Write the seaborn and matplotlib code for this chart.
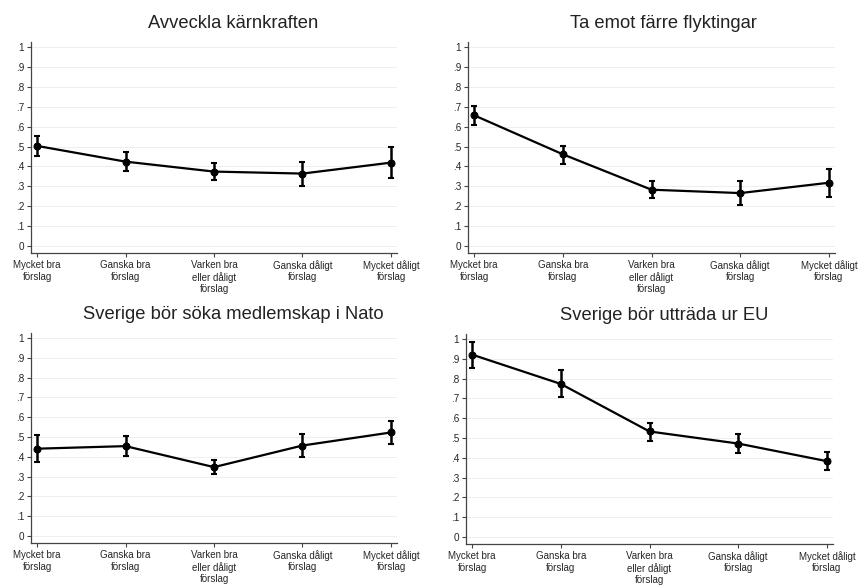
import numpy as np
import pandas as pd
import matplotlib
matplotlib.use('Agg')
import matplotlib.pyplot as plt
import seaborn as sns

# Data (mean and 95% CI bounds)
categories = ['Mycket bra\nförslag', 'Ganska bra\nförslag', 'Varken bra\neller dåligt\nförslag',
              'Ganska dåligt\nförslag', 'Mycket dåligt\nförslag']
titles = ['Avveckla kärnkraften', 'Ta emot färre flyktingar',
          'Sverige bör söka medlemskap i Nato', 'Sverige bör utträda ur EU']

karn_mean = [0.503, 0.424, 0.374, 0.364, 0.419]
karn_lo = [0.450, 0.376, 0.331, 0.304, 0.341]
karn_hi = [0.555, 0.471, 0.416, 0.424, 0.498]

flykt_mean = [0.657, 0.461, 0.283, 0.266, 0.318]
flykt_lo = [0.606, 0.414, 0.241, 0.204, 0.248]
flykt_hi = [0.703, 0.502, 0.327, 0.327, 0.385]

nato_mean = [0.441, 0.454, 0.348, 0.457, 0.523]
nato_lo = [0.374, 0.402, 0.315, 0.397, 0.464]
nato_hi = [0.511, 0.507, 0.384, 0.514, 0.580]

eu_mean = [0.921, 0.773, 0.533, 0.472, 0.383]
eu_lo = [0.854, 0.706, 0.487, 0.425, 0.336]
eu_hi = [0.985, 0.842, 0.578, 0.521, 0.430]

yticks = np.arange(0, 1.01, 0.1)
ytick_labels = ['0', '.1', '.2', '.3', '.4', '.5', '.6', '.7', '.8', '.9', '1']

sns.set_theme(style='white')
plt.rcParams['font.family'] = ['Liberation Sans', 'DejaVu Sans']

W, H = 858, 585
fig = plt.figure(figsize=(W / 100, H / 100), dpi=100)

# axes boxes in pixels: left, top, right, bottom, title centre
boxes = [(31, 42, 397, 253, 233), (468, 42, 835, 253, 663),
         (31, 333, 397, 543, 233), (466, 334, 833, 544, 664)]
series = [(karn_mean, karn_lo, karn_hi), (flykt_mean, flykt_lo, flykt_hi),
          (nato_mean, nato_lo, nato_hi), (eu_mean, eu_lo, eu_hi)]

for (l, t, r, b, tc), title, (m, lo, hi) in zip(boxes, titles, series):
    ax = fig.add_axes([l / W, 1 - b / H, (r - l) / W, (b - t) / H])
    df = pd.DataFrame({'x': range(len(categories)), 'mean': m, 'lo': lo, 'hi': hi})
    for y in yticks:
        ax.axhline(y, color='#eeeeee', lw=0.7, zorder=0)
    ax.errorbar(df['x'], df['mean'],
                yerr=[df['mean'] - df['lo'], df['hi'] - df['mean']],
                fmt='none', ecolor='black', elinewidth=1.8, capsize=2.5, capthick=1.5, zorder=2)
    sns.lineplot(data=df, x='x', y='mean', ax=ax, color='black', lw=1.6,
                 marker='o', markersize=5, markeredgecolor='black', zorder=3)
    ax.set_xlim(-0.068, 4.068)
    ax.set_ylim(-0.035, 1.025)
    ax.set_yticks(yticks)
    ax.set_yticklabels(ytick_labels, fontsize=7.2)
    ax.set_xticks(range(len(categories)))
    ax.set_xticklabels(categories, linespacing=1.2, fontsize=7.0)
    ax.set_xlabel('')
    ax.set_ylabel('')
    ax.set_title(title, fontsize=13.2, pad=10, color='#222222', x=(tc - l) / (r - l))
    for s in ['top', 'right']:
        ax.spines[s].set_visible(False)
    for s in ['left', 'bottom']:
        ax.spines[s].set_color('#444444')
        ax.spines[s].set_linewidth(0.9)
    ax.tick_params(axis='both', which='both', length=3, width=0.8, color='#444444',
                   pad=2, left=True, bottom=True)
    ax.set_facecolor('white')

fig.savefig('out.png', dpi=100, facecolor='white')
